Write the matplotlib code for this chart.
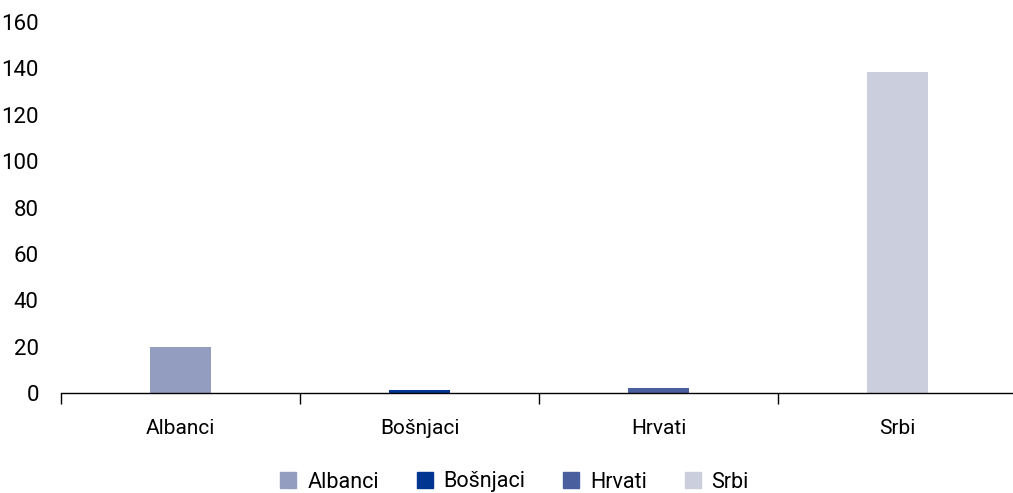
import matplotlib.pyplot as plt
from matplotlib.patches import Patch

# population by group
groups = ["Albanci", "Bošnjaci", "Hrvati", "Srbi"]
values = [20.0, 1.3, 2.2, 138.5]
colors = ["#939dc0", "#003591", "#4a5f9e", "#cbcfdd"]
yticks = [0, 20, 40, 60, 80, 100, 120, 140, 160]

plt.rcParams['font.family'] = ['Roboto', 'DejaVu Sans']
plt.rcParams['font.size'] = 15

fig = plt.figure(figsize=(10.13, 4.93), dpi=100)
ax = fig.add_axes([61 / 1013, 100 / 493, 956 / 1013, 371 / 493])

x = range(len(groups))
ax.bar(x, values, width=0.255, color=colors)

ax.set_xlim(-0.5, 3.5)
ax.set_ylim(0, 160)
ax.set_yticks(yticks)
ax.set_xticks(x)
ax.set_xticklabels(groups)
ax.set_xticks([-0.5, 0.5, 1.5, 2.5], minor=True)

for s in ["top", "right", "left"]:
    ax.spines[s].set_visible(False)
ax.spines["bottom"].set_linewidth(1.0)
ax.tick_params(axis="y", length=0, pad=16, labelsize=16)
ax.tick_params(axis="x", which="major", length=0, pad=19, labelsize=15)
ax.tick_params(axis="x", which="minor", length=8, width=1.0, direction="out")

handles = [Patch(color=c, label=g) for g, c in zip(groups, colors)]
fig.legend(handles=handles, loc="center", bbox_to_anchor=(0.508, 11 / 493),
           ncol=4, frameon=False, fontsize=15.5, handlelength=0.75, handleheight=0.75,
           handletextpad=0.5, columnspacing=1.75)

fig.savefig("out.png", dpi=100)
